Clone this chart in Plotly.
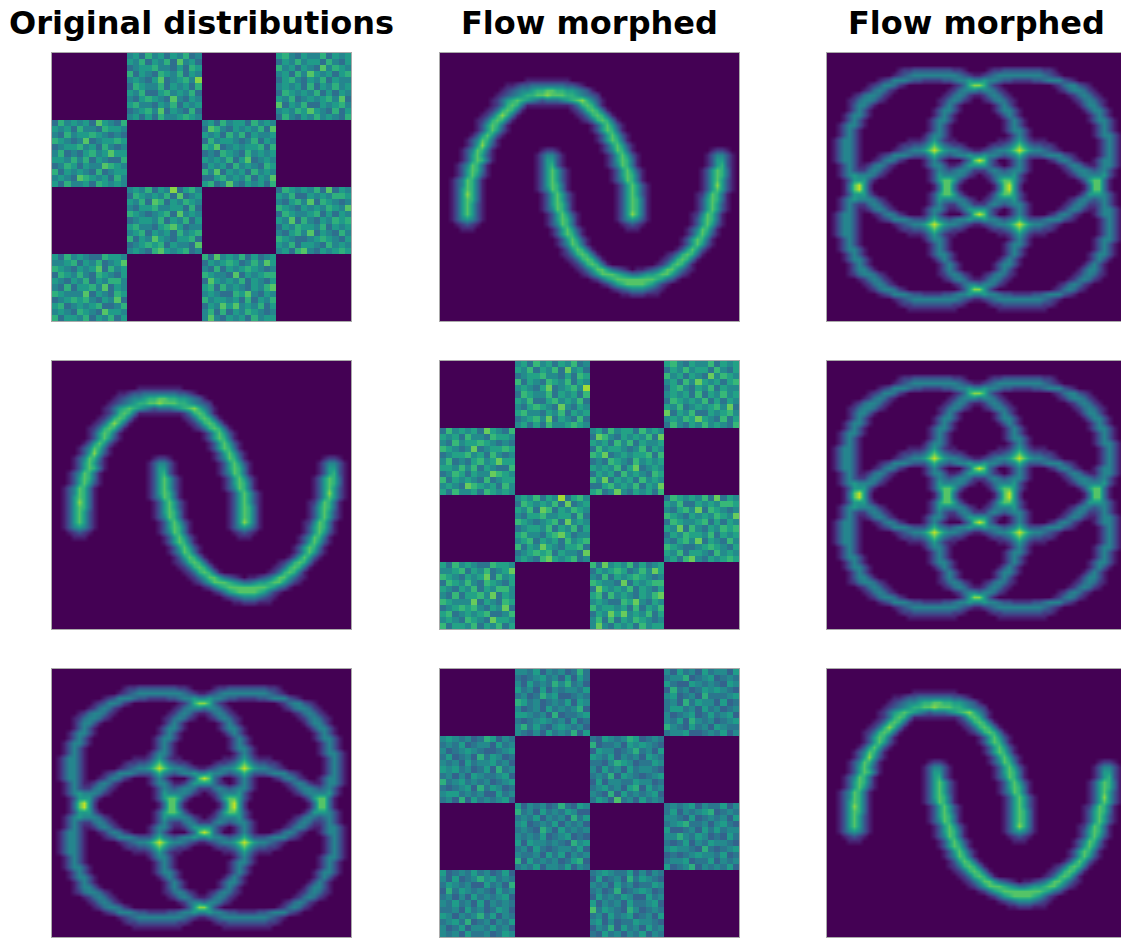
import numpy as np
import plotly.graph_objects as go

W, H = 1121, 938

TITLES = ["Original distributions", "Flow morphed", "Flow morphed"]
TITLE_X = [201, 589, 976]

# density, 60 x 54 bins: "first_bin:digits" per row, overlaps add up
MOON_ROWS = [
    "", "", "", "", "",
    "17:111111111",
    "13:1123344444443321",
    "12:1234556778877665431",
    "11:123456778898887765432",
    "10:12467876543444567897531",
    "10:12478741 18:1111111 25:12478741",
    "9:12478741 26:12478741",
    "8:12479741 27:12478741",
    "7:12478741 28:12478741",
    "7:1368741 30:1368631",
    "7:1368631 30:1368741",
    "6:1368631 31:1368631",
    "5:1358741 31:1368741",
    "5:1369631 32:1368631",
    "4:1358741 32:1358741 20:1221 54:1221",
    "4:1368631 33:1368631 19:135531 53:135531",
    "4:1368741 33:1368741 19:136631 53:136631",
    "3:1358741 33:1358741 19:136731 53:136731",
    "3:1368741 34:1368631 19:1368631 52:1368741",
    "3:1368631 34:1368741 19:1368631 52:1368741",
    "2:1358741 34:1358741 19:1368631 52:1368631",
    "2:1358741 35:1368631 19:1368741 52:1369631",
    "2:1368741 35:1368631 19:1358741 52:1368631",
    "2:1369741 35:1368631 20:1368631 51:1258741",
    "2:1368741 35:1368741 20:1368631 51:1368741",
    "2:1368631 35:1368741 20:1368741 51:1368631",
    "2:1368631 35:1368741 20:1358741 51:1368631",
    "2:1368631 35:1369741 21:1368631 50:1258741",
    "2:1356531 35:1356531 21:1368741 50:1368741",
    "3:12321 36:12321 21:1358741 50:1368631",
    "4:111 37:111 22:1368631 49:1358741",
    "22:1368741 49:1368631",
    "23:1368631 48:1368741",
    "23:1358741 48:1368631",
    "24:1368741 47:1368631",
    "24:12478741 45:12478741",
    "25:12478741 44:12478741",
    "26:12478741 43:12478741",
    "27:12468864321 39:112346886421",
    "28:1246888765445667886421",
    "30:124678888888876431",
    "32:12467888876421",
    "34:12345554321",
    "36:11222111",
]

RING_ROWS = [
    "", "", "",
    "14:12233333333221 32:12233333333221",
    "13:12345555555554321 30:12345555555554321",
    "10:1235554332222334555321 28:1235554332222334555321",
    "8:12355421 27:12455321 25:12355421 45:12455321",
    "7:1245421 29:1245421 24:12455421 46:12455421",
    "5:12455421 30:1245421 23:1245421 48:1245421",
    "4:12455421 31:1245421 22:1245421 49:1245421",
    "4:135531 33:13531 22:13531 50:135531",
    "4:13531 33:135531 21:135531 51:135531",
    "3:135531 34:13531 21:13531 52:13531",
    "3:13531 35:13531 20:135531 52:135531",
    "2:135531 35:13531 20:13531 53:13531",
    "2:13531 35:135531 20:13531 53:13531",
    "2:13531 36:13531 19:135531 53:135531",
    "1:135531 36:13531 19:13531 54:13531 16:1111111111 34:1111111111",
    "1:135531 36:13531 19:13531 54:13531 14:12233333333221 32:12233333333221",
    "1:135531 36:13531 19:13531 54:13531 13:12345555555554321 30:12345555555554321",
    "1:135531 36:13531 19:13531 54:13531 10:1235554332222334555321 28:1235554332222334555321",
    "1:135531 36:13531 19:13531 53:135531 9:1245421 27:1245421 27:1245421 44:1245421",
    "2:13531 36:13531 19:135531 53:135531 7:1245421 28:1245421 25:1245421 46:1245421",
    "2:13531 35:135531 20:13531 53:13531 6:1245421 30:1245421 23:12455421 47:12455421",
    "2:135531 35:13531 20:13531 53:13531 5:1245421 31:1245421 22:12455421 48:12455421",
    "3:13531 34:135531 20:135531 52:13531 5:13531 32:135531 22:135531 50:135531",
    "3:135531 34:13531 21:13531 52:13531 4:13531 33:135531 22:13531 51:13531",
    "4:13531 33:135531 22:13531 51:13531 3:135531 34:13531 21:13531 52:13531",
    "5:13531 32:135531 22:135531 50:13531 3:13531 34:135531 20:135531 52:135531",
    "5:1245421 31:1245421 22:12455421 48:1245421 2:135531 35:13531 20:13531 53:13531",
    "6:1245421 30:1245421 24:1245421 47:1245421 2:13531 35:135531 20:13531 53:13531",
    "7:1245421 28:1245421 25:1245421 46:1245421 2:13531 36:13531 19:135531 53:135531",
    "9:1245421 27:1245421 27:1245421 44:1245421 1:135531 36:13531 19:13531 53:135531",
    "10:1235554332222334555321 28:1235554332222334555321 1:135531 36:13531 19:13531 54:13531",
    "13:12345555555554321 30:12345555555554321 1:135531 36:13531 19:13531 54:13531",
    "14:12233333333221 32:12233333333221 1:135531 36:13531 19:13531 54:13531",
    "16:1111111111 34:1111111111 1:135531 36:13531 19:13531 54:13531",
    "2:13531 36:13531 19:135531 53:135531",
    "2:13531 35:135531 20:13531 53:13531",
    "2:135531 35:13531 20:13531 53:13531",
    "3:13531 35:13531 20:135531 52:135531",
    "3:135531 34:13531 21:13531 52:13531",
    "4:13531 33:135531 22:13531 51:13531",
    "4:135531 33:13531 22:13531 50:135531",
    "4:12455421 31:1245421 22:1245421 49:1245421",
    "6:1245421 30:1245421 23:1245421 48:1245421",
    "7:1245421 29:1245421 25:1245421 46:1245421",
    "8:12455421 27:1245421 26:1245421 45:1245421",
    "10:1235554332222334555321 28:1235554332222334555321",
    "13:12345555555554321 30:12345555555554321",
    "14:12233333333221 32:12233333333221",
    "16:1111111111 34:1111111111",
]

# checkerboard: two filled blocks per block row, 12 x 11 bins each
CHECK_ROWS = [
    "564756465745675465574656", "657465748564465756647546", "456675546476756465485765", "746547657465564758656467",
    "565468456759467546574655", "476557465647565647465756", "657446756574476565746465", "546765485465657456567584",
    "675546574656846574465675", "456758465474565768654746", "564647556765475465756547",
    "475656486547564756647565", "656475547665487546565748", "547566765454656475746556", "765458456676475665457465",
    "456675647545768456566747", "574546756866454765475656", "665757465447656574684565", "457646558765465647565476",
    "746565474566758465647565", "565487656475446756574658", "647556476565674585465647",
    "565746594675476565748465", "476565748456657446565776", "657487465765546758476545",
    "546675566474765465657658", "765456748565476556746465", "456657465746658475465767",
    "675546786455465766574656", "567465647567546758465475", "746586546674765445676546",
    "456767465548657466547565", "565478656745564785465676",
    "647565447665748565746456", "556746574568465676457586", "765465684756547465676545",
    "476575476546765548465677", "654657465775486565746546", "547466758465674756546578",
    "765558465476565447685465", "456767546584756656474657", "674565674457465868565746",
    "565476548665574746576545", "746657465746585465647566",
]

PANELS = [
    ("check", 0, 0, 1.00), ("moon", 1, 0, 1.00), ("ring", 2, 0, 1.00),
    ("moon", 0, 1, 1.00), ("check", 1, 1, 0.95), ("check", 2, 1, 1.15),
    ("ring", 0, 2, 1.00), ("ring", 1, 2, 1.00), ("moon", 2, 2, 1.00),
]
COL_LEFT = [52, 440, 827]
ROW_TOP = [53, 361, 669]
PANEL_W, PANEL_H = 299, 268
# shift of the picture in bins inside its frame, per (row, col)
SHIFT_Y = {(2, 2): 0.8, (2, 0): -0.4}


def read_rows(rows, ncols=60, nrows=54):
    z = np.zeros((nrows, ncols))
    for r, row in enumerate(rows):
        for seg in row.split():
            start, digits = seg.split(":")
            for i, d in enumerate(digits):
                z[r, int(start) + i] += int(d)
    return z


def read_check(rows, flip=False):
    z = np.zeros((44, 48))
    rows = [row[::-1] for row in rows[::-1]] if flip else rows
    for r, row in enumerate(rows):
        odd = (r // 11) % 2 == 1
        for i, d in enumerate(row):
            c = i + (0 if odd else 12) if i < 12 else i + (12 if odd else 24)
            z[r, c] = int(d)
    return z


GRIDS = {"moon": read_rows(MOON_ROWS), "ring": read_rows(RING_ROWS)}

fig = go.Figure()
for n, (kind, row, col, zscale) in enumerate(PANELS, start=1):
    left, top = COL_LEFT[col], ROW_TOP[row]
    right = min(left + PANEL_W, W)
    if kind == "check":
        z = read_check(CHECK_ROWS, flip=(row == 2))
        nx, ny, smooth = 48, 44, False
    else:
        z = GRIDS[kind]
        nx, ny, smooth = 60, 54, "best"
    dy = SHIFT_Y.get((row, col), 0) if kind != "check" else 0
    fig.add_trace(go.Heatmap(
        z=z, x=np.arange(nx) + 0.5, y=np.arange(ny) + 0.5,
        colorscale="Viridis", zmin=0, zmax=11 * zscale, showscale=False,
        zsmooth=smooth, xaxis=f"x{n}", yaxis=f"y{n}", hoverinfo="skip",
    ))
    fig.update_layout({
        f"xaxis{n}": dict(domain=[left / W, right / W], range=[0, nx * (right - left) / PANEL_W],
                          showticklabels=False, ticks="", showgrid=False, zeroline=False,
                          showline=True, linecolor="#aaaaaa", linewidth=1, mirror=True, anchor=f"y{n}"),
        f"yaxis{n}": dict(domain=[1 - (top + PANEL_H) / H, 1 - top / H], range=[ny + dy, dy],
                          showticklabels=False, ticks="", showgrid=False, zeroline=False,
                          showline=True, linecolor="#aaaaaa", linewidth=1, mirror=True, anchor=f"x{n}"),
    })

for title, x in zip(TITLES, TITLE_X):
    fig.add_annotation(text=title, x=x / W, y=1 - 23 / H, xref="paper", yref="paper", showarrow=False,
                       xanchor="center", yanchor="middle",
                       font=dict(family="DejaVu Sans", size=32, color="black", weight="bold"))

fig.update_layout(width=W, height=H, margin=dict(l=0, r=0, t=0, b=0), paper_bgcolor="white", plot_bgcolor="#440154")
fig.write_html("out.html", config=dict(displayModeBar=False), post_script="document.body.style.margin='0';")
